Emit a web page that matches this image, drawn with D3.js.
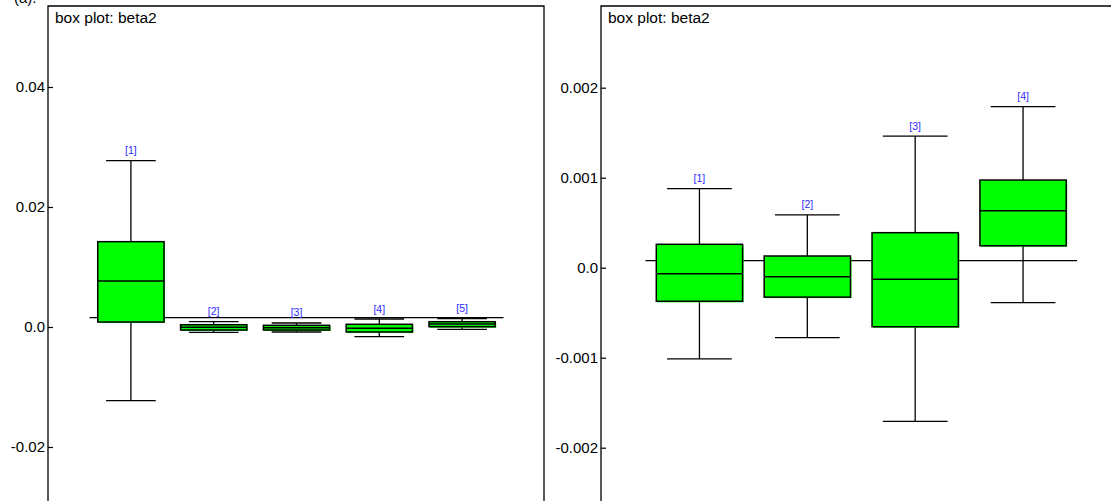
<!DOCTYPE html>
<html>
<head>
<meta charset="utf-8">
<script src="https://cdn.jsdelivr.net/npm/d3@7"></script>
<style>
  body { margin: 0; background: #fff; }
  svg { display: block; font-family: "Liberation Sans", Arial, sans-serif; }
</style>
</head>
<body>
<div id="main"></div>
<script>
// left panel: five nodes
const leftCats = ["[1]", "[2]", "[3]", "[4]", "[5]"];
const leftLow  = [-0.01228, -0.00088, -0.00083, -0.00162, -0.00038];
const leftQ1   = [0.00083, -0.00050, -0.00050, -0.00083, 0.00005];
const leftMed  = [0.00767, -0.00005, -0.00012, -0.00022, 0.00050];
const leftQ3   = [0.01422, 0.00038, 0.00028, 0.00045, 0.00088];
const leftHigh = [0.02772, 0.00088, 0.00067, 0.00133, 0.00138];
const leftRef = 0.00155;
const leftTicks = [-0.02, 0.0, 0.02, 0.04];
const leftTickLabels = ["-0.02", "0.0", "0.02", "0.04"];

// right panel: four nodes
const rightCats = ["[1]", "[2]", "[3]", "[4]"];
const rightLow  = [-0.001014, -0.000778, -0.001708, -0.000389];
const rightQ1   = [-0.000373, -0.000327, -0.000656, 0.000244];
const rightMed  = [-0.000067, -0.000100, -0.000129, 0.000633];
const rightQ3   = [0.000260, 0.000130, 0.000389, 0.000974];
const rightHigh = [0.000878, 0.000586, 0.001463, 0.001789];
const rightRef = 0.000078;
const rightTicks = [-0.002, -0.001, 0.0, 0.001, 0.002];
const rightTickLabels = ["-0.002", "-0.001", "0.0", "0.001", "0.002"];

const W = 1111, H = 501;

const svg = d3.select("#main").append("svg")
    .attr("width", W)
    .attr("height", H);

// caption, cut off at the top edge as in the source image
svg.append("text")
    .attr("x", 14)
    .attr("y", 3)
    .attr("font-size", 15)
    .attr("fill", "#000")
    .text("(a).");

function drawPanel(p) {
    const g = svg.append("g");

    const y = d3.scaleLinear().domain(p.yDomain).range(p.yRange);
    const x = d3.scaleBand().domain(p.cats).range(p.xRange).paddingInner(0).paddingOuter(0);

    const rows = p.cats.map((c, i) => ({
        cat: c, low: p.low[i], q1: p.q1[i], med: p.med[i], q3: p.q3[i], high: p.high[i]
    }));

    // frame (left, top, right)
    let framePath = `M${p.left},${H + 2}V${p.top}H${p.right}`;
    if (p.right < W) framePath += `V${H + 2}`;
    g.append("path")
        .attr("d", framePath)
        .attr("fill", "none")
        .attr("stroke", "#000")
        .attr("stroke-width", 1.3);

    // y axis ticks pointing inward
    const axis = d3.axisLeft(y)
        .tickValues(p.ticks)
        .tickFormat((d, i) => p.tickLabels[i])
        .tickSizeInner(-5)
        .tickSizeOuter(0)
        .tickPadding(3);
    const ax = g.append("g")
        .attr("transform", `translate(${p.left},0)`)
        .call(axis);
    ax.select(".domain").remove();
    ax.selectAll(".tick line").attr("stroke", "#000").attr("stroke-width", 1.2);
    ax.selectAll(".tick text")
        .attr("font-size", 15)
        .attr("fill", "#000")
        .attr("font-family", "Liberation Sans, Arial, sans-serif");

    // title
    g.append("text")
        .attr("x", p.left + 7)
        .attr("y", p.top + 17)
        .attr("font-size", 15.5)
        .attr("fill", "#000")
        .text("box plot: beta2");

    // reference line
    g.append("line")
        .attr("x1", p.xRange[0]).attr("x2", p.xRange[1])
        .attr("y1", y(p.ref)).attr("y2", y(p.ref))
        .attr("stroke", "#000")
        .attr("stroke-width", 1.2);

    const bw = x.bandwidth() * 0.8;
    const cw = x.bandwidth() * 0.6;
    const cx = d => x(d.cat) + x.bandwidth() / 2;

    const box = g.selectAll("g.box")
        .data(rows)
        .enter()
        .append("g")
        .attr("class", "box");

    // whiskers
    box.append("line")
        .attr("x1", cx).attr("x2", cx)
        .attr("y1", d => y(d.high)).attr("y2", d => y(d.low))
        .attr("stroke", "#000").attr("stroke-width", 1.3);
    box.append("line")
        .attr("x1", d => cx(d) - cw / 2).attr("x2", d => cx(d) + cw / 2)
        .attr("y1", d => y(d.high)).attr("y2", d => y(d.high))
        .attr("stroke", "#000").attr("stroke-width", 1.3);
    box.append("line")
        .attr("x1", d => cx(d) - cw / 2).attr("x2", d => cx(d) + cw / 2)
        .attr("y1", d => y(d.low)).attr("y2", d => y(d.low))
        .attr("stroke", "#000").attr("stroke-width", 1.3);

    // green shadow then box
    box.append("rect")
        .attr("x", d => cx(d) - bw / 2 + 1)
        .attr("y", d => y(d.q3) + 1)
        .attr("width", bw)
        .attr("height", d => y(d.q1) - y(d.q3))
        .attr("fill", "#00ff00");
    box.append("rect")
        .attr("x", d => cx(d) - bw / 2)
        .attr("y", d => y(d.q3))
        .attr("width", bw)
        .attr("height", d => y(d.q1) - y(d.q3))
        .attr("fill", "#00ff00")
        .attr("stroke", "#000")
        .attr("stroke-width", 1.5);
    box.append("line")
        .attr("x1", d => cx(d) - bw / 2).attr("x2", d => cx(d) + bw / 2)
        .attr("y1", d => y(d.med)).attr("y2", d => y(d.med))
        .attr("stroke", "#000").attr("stroke-width", 1.5);

    // node labels
    box.append("text")
        .attr("x", cx)
        .attr("y", d => y(d.high) - 6.5)
        .attr("text-anchor", "middle")
        .attr("font-size", 10.5)
        .attr("fill", "#2b2bff")
        .text(d => d.cat);
}

drawPanel({
    cats: leftCats, low: leftLow, q1: leftQ1, med: leftMed, q3: leftQ3, high: leftHigh,
    ref: leftRef, ticks: leftTicks, tickLabels: leftTickLabels,
    yDomain: [-0.02, 0.04], yRange: [447, 87],
    xRange: [89.5, 503.5],
    left: 48, top: 6, right: 544
});

drawPanel({
    cats: rightCats, low: rightLow, q1: rightQ1, med: rightMed, q3: rightQ3, high: rightHigh,
    ref: rightRef, ticks: rightTicks, tickLabels: rightTickLabels,
    yDomain: [-0.002, 0.002], yRange: [447.7, 87.7],
    xRange: [645.5, 1077],
    left: 601, top: 6, right: W + 5
});
</script>
</body>
</html>
